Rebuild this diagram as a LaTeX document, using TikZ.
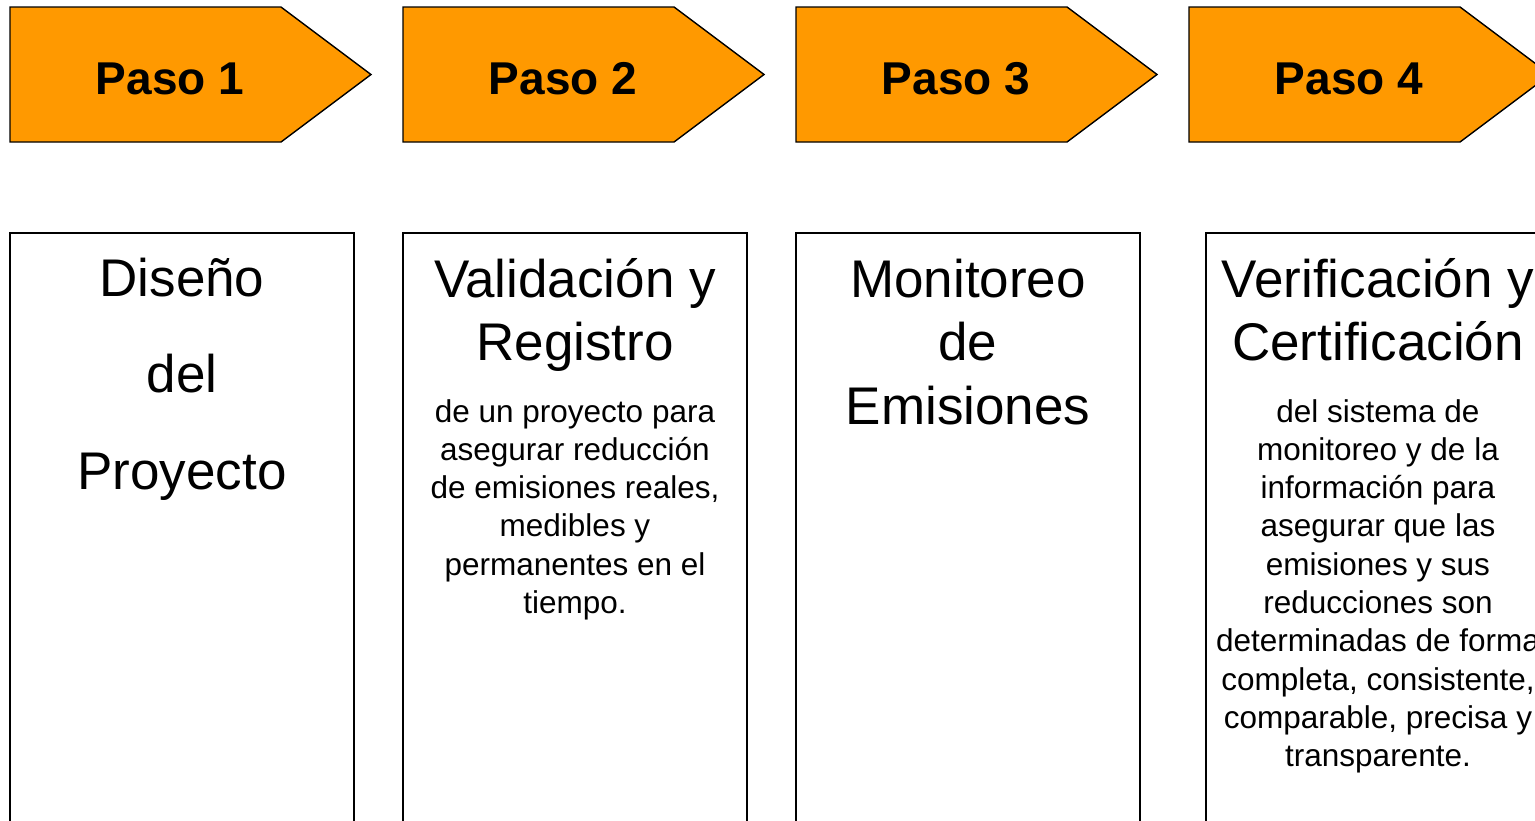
\documentclass[tikz,border=0pt]{standalone}
\usepackage{fontspec}
\setmainfont{Liberation Sans}
\definecolor{pasoorange}{RGB}{255,153,0}
\tikzset{
  pasoshape/.style={fill=pasoorange, draw=black, line width=1.4pt, line join=miter},
  stepboxframe/.style={draw=black, line width=1.6pt},
  pasolabel/.style={font=\bfseries\fontsize{46}{55}\selectfont, anchor=base, inner sep=0pt},
  titletext/.style={font=\fontsize{53}{63.5}\selectfont, align=center, anchor=base, inner sep=0pt},
  bodytext/.style={font=\fontsize{31.5}{38.3}\selectfont, align=center, anchor=base, inner sep=0pt}
}
\begin{document}
\begin{tikzpicture}[x=1pt,y=-1pt]
\useasboundingbox (0,0) rectangle (1535,820);
\clip (0,0) rectangle (1535,820);
\fill[white] (0,0) rectangle (1535,820);
% arrows
\foreach \xx/\n in {10/1,403/2,796/3,1189/4}{
  \draw[pasoshape] (\xx,7) -- (\xx+271,7) -- (\xx+361,74.5) -- (\xx+271,142) -- (\xx,142) -- cycle;
}
\node[pasolabel] (paso1) at (170,94) {Paso 1};
\node[pasolabel] (paso2) at (563,94) {Paso 2};
\node[pasolabel] (paso3) at (956,94) {Paso 3};
\node[pasolabel] (paso4) at (1349,94) {Paso 4};
% boxes
\draw[stepboxframe] (10,233) rectangle (354,840);
\draw[stepboxframe] (403,233) rectangle (747,840);
\draw[stepboxframe] (796,233) rectangle (1140,840);
\draw[stepboxframe] (1206,233) rectangle (1550,840);
% box texts (base anchor = last line baseline)
\node[titletext, font=\fontsize{53}{96.5}\selectfont] (t1) at (182,489) {Diseño\\del\\Proyecto};
\node[titletext] (t2) at (575,360.5) {Validación y\\Registro};
\node[bodytext] (b2) at (575,613.5) {de un proyecto para\\asegurar reducción\\de emisiones reales,\\medibles y\\permanentes en el\\tiempo.};
\node[titletext] (t3) at (968,424) {Monitoreo\\de\\Emisiones};
\node[titletext] (t4) at (1378,360.5) {Verificación y\\Certificación};
\node[bodytext] (b4) at (1378,766.7) {del sistema de\\monitoreo y de la\\información para\\asegurar que las\\emisiones y sus\\reducciones son\\determinadas de forma\\completa, consistente,\\comparable, precisa y\\transparente.};
\end{tikzpicture}
\end{document}
